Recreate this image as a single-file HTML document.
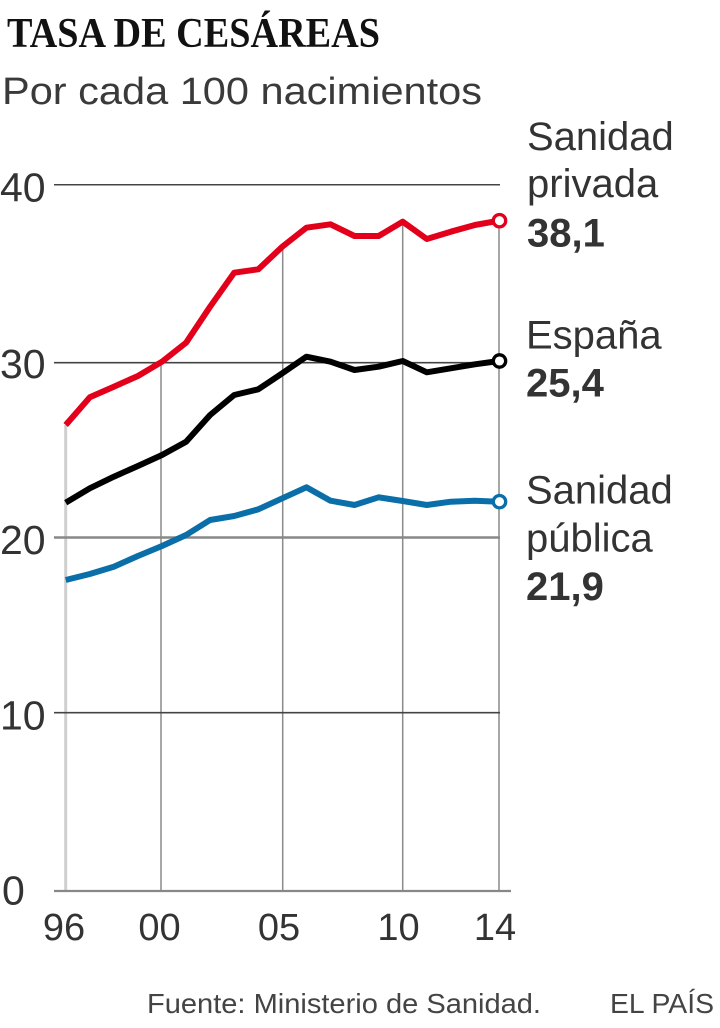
<!DOCTYPE html>
<html>
<head>
<meta charset="utf-8">
<style>
  html, body { margin: 0; padding: 0; background: #fff; }
  svg { display: block; }
  .sans { font-family: "Liberation Sans", "DejaVu Sans", sans-serif; }
  .serif { font-family: "Liberation Serif", "DejaVu Serif", serif; }
</style>
</head>
<body>
<svg width="720" height="1028" viewBox="0 0 720 1028" xmlns="http://www.w3.org/2000/svg">
  <rect width="720" height="1028" fill="#fff"/>

  <!-- Title & subtitle -->
  <text class="serif" x="7" y="47" font-size="42" font-weight="bold" fill="#111" textLength="373" lengthAdjust="spacingAndGlyphs">TASA DE CESÁREAS</text>
  <text class="sans" x="2" y="104" font-size="38" fill="#3a3a3a" textLength="480" lengthAdjust="spacingAndGlyphs">Por cada 100 nacimientos</text>

  <!-- Vertical gridlines -->
  <line x1="65.7" y1="425" x2="65.7" y2="891" stroke="#cfcfcf" stroke-width="3"/>
  <line x1="161" y1="361.7" x2="161" y2="891" stroke="#8a8a8a" stroke-width="1.5"/>
  <line x1="282.7" y1="247" x2="282.7" y2="891" stroke="#8a8a8a" stroke-width="1.5"/>
  <line x1="402.7" y1="222" x2="402.7" y2="891" stroke="#8a8a8a" stroke-width="1.5"/>
  <line x1="499" y1="221" x2="499" y2="891" stroke="#8a8a8a" stroke-width="1.5"/>

  <!-- Horizontal gridlines -->
  <line x1="54" y1="184.8" x2="500" y2="184.8" stroke="#444" stroke-width="1.5"/>
  <line x1="54" y1="362.7" x2="500" y2="362.7" stroke="#444" stroke-width="1.7"/>
  <line x1="54" y1="537.5" x2="500" y2="537.5" stroke="#888" stroke-width="2.6"/>
  <line x1="54" y1="712.7" x2="500" y2="712.7" stroke="#444" stroke-width="1.7"/>
  <line x1="54" y1="891" x2="511" y2="891" stroke="#888" stroke-width="2.2"/>

  <!-- Y axis labels -->
  <g class="sans" font-size="41" fill="#333">
    <text x="0" y="201.5">40</text>
    <text x="0" y="378">30</text>
    <text x="0" y="554">20</text>
    <text x="0" y="729.5">10</text>
    <text x="2" y="904.5">0</text>
  </g>

  <!-- X axis labels -->
  <g class="sans" font-size="38" fill="#333" text-anchor="middle">
    <text x="64" y="940">96</text>
    <text x="159.5" y="940">00</text>
    <text x="279" y="940">05</text>
    <text x="398.5" y="940">10</text>
    <text x="495" y="940">14</text>
  </g>

  <!-- Series -->
  <g fill="none" stroke-width="6" stroke-linejoin="round" stroke-linecap="butt">
    <polyline stroke="#0a6ea8" points="65.7,580 89.8,574 113.8,566.7 137.9,556 162,546 186.1,535 210.1,520 234.2,516 258.3,509.3 282.3,498.3 306.4,487.3 330.5,500.7 354.5,505 378.6,497.3 402.7,501 426.8,505 450.8,501.7 474.9,500.7 499,501.7"/>
    <polyline stroke="#000" points="65.7,502.7 89.8,488.3 113.8,476.7 137.9,466 162,455 186.1,441.7 210.1,415 234.2,395 258.3,389.3 282.3,373.3 306.4,356.7 330.5,361.7 354.5,370 378.6,366.7 402.7,361 426.8,372.3 450.8,368.3 474.9,364.3 499,361"/>
    <polyline stroke="#e2001a" points="65.7,425 89.8,397.3 113.8,386.7 137.9,376 162,361.7 186.1,342.7 210.1,306.7 234.2,272.7 258.3,269.3 282.3,246.7 306.4,227.7 330.5,224.3 354.5,236 378.6,236 402.7,221.7 426.8,239 450.8,231.7 474.9,225 499,220.7"/>
  </g>

  <!-- End markers -->
  <circle cx="499.5" cy="220.7" r="6.2" fill="#fff" stroke="#e2001a" stroke-width="3.3"/>
  <circle cx="499.5" cy="361" r="6.2" fill="#fff" stroke="#000" stroke-width="3.3"/>
  <circle cx="499.5" cy="501.7" r="6.2" fill="#fff" stroke="#0a6ea8" stroke-width="3.3"/>

  <!-- Right labels -->
  <g class="sans" font-size="40" fill="#333">
    <text x="527" y="150">Sanidad</text>
    <text x="527" y="197">privada</text>
    <text x="527" y="246.5" font-weight="bold">38,1</text>

    <text x="526" y="348.3">España</text>
    <text x="526" y="396.5" font-weight="bold">25,4</text>

    <text x="526" y="503.3">Sanidad</text>
    <text x="526" y="551.7">pública</text>
    <text x="526" y="600" font-weight="bold">21,9</text>
  </g>

  <!-- Footer -->
  <g class="sans" font-size="28" fill="#444">
    <text x="147" y="1013" textLength="394" lengthAdjust="spacingAndGlyphs">Fuente: Ministerio de Sanidad.</text>
    <text x="610" y="1013" textLength="104" lengthAdjust="spacingAndGlyphs">EL PAÍS</text>
  </g>
</svg>
</body>
</html>
